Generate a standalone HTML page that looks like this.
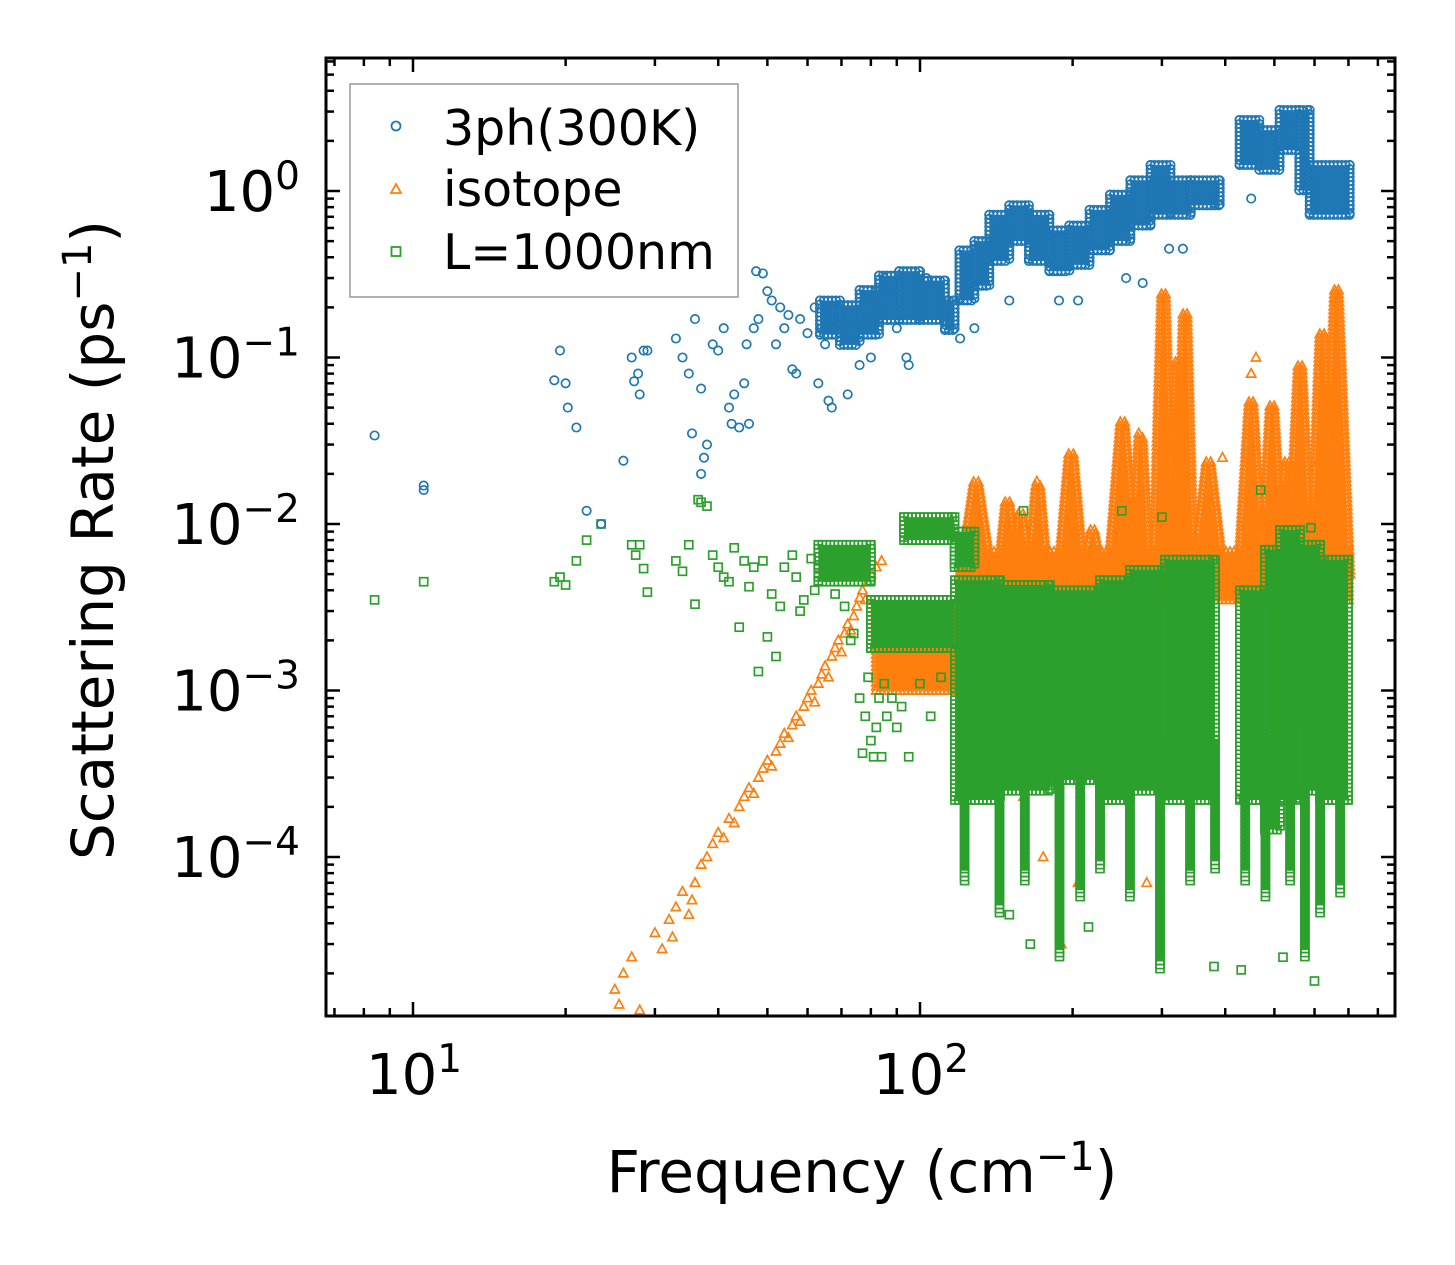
<!DOCTYPE html>
<html><head><meta charset="utf-8"><style>
html,body{margin:0;padding:0;background:#fff}
svg{display:block}
text{font-family:"DejaVu Sans","Liberation Sans",sans-serif;fill:#000}
</style></head><body>
<svg id="chart" width="1455" height="1265" viewBox="0 0 1455 1265" xmlns="http://www.w3.org/2000/svg">
<rect x="0" y="0" width="1455" height="1265" fill="#fff"/>
<g id="marks"></g>
<g id="axes"></g>
<g id="legend">
<rect x="350" y="84" width="388" height="213" fill="#fff" fill-opacity="0.8" stroke="#999" stroke-width="1.5"/>
<circle cx="396" cy="126" r="4.5" fill="none" stroke="#1f77b4" stroke-width="1.8"/>
<text x="443" y="145" font-size="49">3ph(300K)</text>
<polygon points="396,184 401,193 391,193" fill="none" stroke="#ff7f0e" stroke-width="1.8"/>
<text x="443" y="206" font-size="49">isotope</text>
<rect x="391.5" y="247" width="9" height="9" fill="none" stroke="#2ca02c" stroke-width="1.8"/>
<text x="443" y="269" font-size="49">L=1000nm</text>
</g>
</svg>
<script>
// ---- data ----
const xTickVals=[10,100];
const xTickLabels=["1","2"];
const yTickVals=[1,0.1,0.01,0.001,0.0001];
const yTickLabels=["0","\u22121","\u22122","\u22123","\u22124"];

const blueX=[8.4,10.5,10.5,19,19.5,20,20.2,21,22,23.5,26,27,27.3,27.8,28,28.5,29,33,34,35,35.5,36,37,37,37.5,38,39,40,41,42,42.5,43,44,45,45.5,46,47,47.5,48,49,50,51,52,53,54,55,56,57,58,60,62,63,64,65,66,67,68,70,72,74,76,78,80,82,85,88,90,92,94,95,98,100,103,105,120,128,150,188,205,255,275,310,330,380,450];
const blueY=[0.034,0.017,0.016,0.073,0.11,0.07,0.05,0.038,0.012,0.01,0.024,0.1,0.072,0.08,0.06,0.11,0.11,0.13,0.1,0.08,0.035,0.17,0.065,0.02,0.025,0.03,0.12,0.11,0.15,0.05,0.04,0.06,0.038,0.07,0.12,0.04,0.15,0.33,0.17,0.32,0.25,0.22,0.12,0.2,0.15,0.18,0.085,0.08,0.17,0.14,0.2,0.07,0.15,0.12,0.055,0.05,0.2,0.16,0.06,0.18,0.09,0.2,0.1,0.25,0.3,0.22,0.15,0.18,0.1,0.09,0.24,0.2,0.3,0.22,0.13,0.15,0.22,0.22,0.22,0.3,0.28,0.45,0.45,0.85,0.9];
const blueBandLo=[63.5,69.5,76,83,91,100,112,119.6,128,137,150,164,180,197,216,237,260,285,312,342,427,467,512,560,587];
const blueBandHi=[69.5,76,83,91,100,112,117,128,137,150,164,180,197,216,237,260,285,312,342,390,467,512,560,587,704];
const blueBandMin=[0.137,0.119,0.137,0.168,0.168,0.168,0.146,0.22,0.27,0.38,0.5,0.38,0.33,0.36,0.44,0.5,0.62,0.72,0.72,0.82,1.43,1.34,1.76,1.01,0.72];
const blueBandMax=[0.22,0.206,0.254,0.31,0.33,0.29,0.22,0.44,0.5,0.72,0.82,0.72,0.58,0.62,0.77,0.95,1.16,1.43,1.16,1.16,2.67,2.32,3.06,3.06,1.43];

const orangeX=[22,25,25.5,26,27,28,28.5,30,31,32,32.5,33,34,35,35.5,36,37,38,39,40,41,42,43,44,45,46,47,48,49,50,51,52,53,54,55,56,57,58,59,60,61,62,63,64,65,66,67,68,69,70,71,72,73,74,75,76,77,78,79,80,82,84,160,175,190,205,230,280,330,395,450,460,600,170,270];
const orangeY=[1.1e-5,1.6e-5,1.3e-5,2e-5,2.5e-5,1.2e-5,1.1e-5,3.5e-5,2.8e-5,4.2e-5,3.3e-5,5e-5,6.2e-5,4.5e-5,5.5e-5,7e-5,9e-5,1e-4,1.2e-4,1.4e-4,1.3e-4,1.7e-4,1.6e-4,2e-4,2.3e-4,2.6e-4,2.4e-4,3e-4,3.4e-4,3.8e-4,3.5e-4,4.3e-4,4.8e-4,5.5e-4,5.2e-4,6.2e-4,7e-4,6.5e-4,8e-4,9e-4,1e-3,8.5e-4,1.1e-3,1.25e-3,1.4e-3,1.2e-3,1.6e-3,1.8e-3,2e-3,1.7e-3,2.2e-3,2.5e-3,2.3e-3,2.8e-3,3.2e-3,3.6e-3,4e-3,3.5e-3,4.5e-3,5e-3,5.5e-3,6e-3,2.3e-4,1e-4,3e-5,7e-5,2.5e-4,7e-5,0.06,0.025,0.08,0.1,0.022,0.018,0.035];
const orangeBandLo=[82,121];
const orangeBandHi=[121,700];
const orangeBandMin=[0.001,0.0035];
const orangeBandMax=[0.0032,0.0068];
const orangeSpikeLo=[121,143.8,153,164.8,188.9,211.6,237,263,290.8,308,322.9,348.6,427.6,472.8,508,537,593,629];
const orangeSpikeHi=[137.4,153.8,163,177,208.7,226.5,265.5,281.7,314,337,344,394,472.8,517.6,551.6,587.6,649.6,698.6];
const orangeSpikeTop=[0.0184,0.0139,0.0121,0.0175,0.0277,0.0092,0.0421,0.034,0.244,0.0968,0.188,0.0242,0.0556,0.052,0.0242,0.09,0.146,0.254];

const greenX=[8.4,10.5,19,19.5,20,21,22,23.5,27,27.5,28,28.5,29,33,34,35,36,36.5,37,38,39,40,41,42,43,44,45,46,47,48,49,50,51,52,53,54,56,57,58,59,61,62,63,66,67,68,71,73,74,76,77,78,79,80,81,82,83,84,85,86,88,90,92,95,100,105,110,160,250,300,470,590,620,150,165,215,380,430,520,600];
const greenY=[0.0035,0.0045,0.0045,0.0048,0.0043,0.006,0.008,0.01,0.0075,0.0065,0.0075,0.0054,0.0039,0.006,0.0052,0.0075,0.0033,0.014,0.0135,0.0128,0.0065,0.0055,0.0048,0.0045,0.0072,0.0024,0.006,0.0042,0.0055,0.0013,0.006,0.0021,0.0038,0.0016,0.0032,0.0055,0.0065,0.0048,0.003,0.0035,0.0062,0.004,0.0055,0.0048,0.0058,0.0038,0.0032,0.002,0.0022,0.0009,0.00042,0.0007,0.0012,0.0005,0.0004,0.0006,0.0009,0.0004,0.0011,0.0007,0.0009,0.0006,0.0008,0.0004,0.0011,0.0007,0.0012,0.012,0.012,0.011,0.016,0.0095,0.006,4.5e-5,3e-5,3.8e-5,2.2e-5,2.1e-5,2.5e-5,1.8e-5];
const greenBandLo=[63,80,93,117,117.2,143.8,180.5,226.5,259.7,304,427.6,479,512.9,561.6,615];
const greenBandHi=[80,117,117,128,143.8,180.5,226.5,259.7,304,381.8,479,512.9,561.6,615,698.6];
const greenBandMin=[0.0045,0.0018,0.008,0.0055,0.00022,0.00025,0.00029,0.00022,0.00025,0.00022,0.00022,0.000146,0.00022,0.00025,0.00022];
const greenBandMax=[0.0075,0.0035,0.011,0.009,0.0046,0.0043,0.004,0.0046,0.0053,0.0061,0.004,0.007,0.0092,0.0075,0.0061];
const greenSpikeLo=[120,141,158,185,203,222,255,292,335,375,430,471,527,564,604,662];
const greenSpikeHi=[125,146,164,192,211,231,264,303,347,389,446,489,547,585,627,686];
const greenSpikeMin=[7.2e-5,4.5e-5,7.2e-5,2.4e-5,5.5e-5,8.3e-5,5.5e-5,2.1e-5,7.2e-5,8.3e-5,7.2e-5,5.5e-5,7.2e-5,2.4e-5,4.5e-5,6e-5];
const greenSpikeMax=[0.0005,0.0005,0.0005,0.0005,0.0005,0.0005,0.0005,0.0005,0.0005,0.0005,0.0005,0.0005,0.0005,0.0005,0.0005,0.0005];

// ---- scales ----
const X0=326,X1=1395,Y0=58,Y1=1016;
const xPx10=413,xDec=507;
const yPx1=191,yDec=166.5;
function sx(f){return xPx10+(Math.log10(f)-1)*xDec;}
function sy(v){return yPx1-Math.log10(v)*yDec;}

const NS="http://www.w3.org/2000/svg";
const marks=document.getElementById('marks');
const axes=document.getElementById('axes');
function mk(tag,attrs,parent){const e=document.createElementNS(NS,tag);for(const k in attrs)e.setAttribute(k,attrs[k]);parent.appendChild(e);return e;}

function marker(kind,px,py,parent){
  if(px<X0||px>X1||py<Y0||py>Y1)return null;
  if(kind==='c')return mk('circle',{cx:px.toFixed(1),cy:py.toFixed(1),r:4.2,fill:'none',stroke:'#1f77b4','stroke-width':1.7},parent);
  if(kind==='t')return mk('polygon',{points:`${px.toFixed(1)},${(py-5).toFixed(1)} ${(px+4.6).toFixed(1)},${(py+3.5).toFixed(1)} ${(px-4.6).toFixed(1)},${(py+3.5).toFixed(1)}`,fill:'none',stroke:'#ff7f0e','stroke-width':1.7},parent);
  return mk('rect',{x:(px-4).toFixed(1),y:(py-4).toFixed(1),width:8,height:8,fill:'none',stroke:'#2ca02c','stroke-width':1.7},parent);
}
function clip(v,a,b){return Math.max(a,Math.min(b,v));}

function drawBands(g,name,kind,color,bLo,bHi,bMin,bMax){
  for(let i=0;i<bLo.length;i++){
    const x0=sx(bLo[i]),x1=sx(bHi[i]),y0=sy(bMax[i]),y1=sy(bMin[i]);
    const r=mk('rect',{x:clip(x0,X0,X1),y:clip(y0,Y0,Y1),width:Math.max(0,clip(x1,X0,X1)-clip(x0,X0,X1)),height:Math.max(0,clip(y1,Y0,Y1)-clip(y0,Y0,Y1)),fill:color},g);
    
    
    for(let px=x0;px<=x1;px+=4){marker(kind,px,y0,g);marker(kind,px,y1,g);}
    for(let py=y0;py<=y1;py+=4){marker(kind,x0,py,g);marker(kind,x1,py,g);}
  }
}
function drawPoints(g,name,kind,xs,ys){
  for(let i=0;i<xs.length;i++){
    const m=marker(kind,sx(xs[i]),sy(ys[i]),g);
    if(m){
    }
  }
}

// isotope
const gO=mk('g',{},marks);


drawBands(gO,'isotope','t','#ff7f0e',orangeBandLo,orangeBandHi,orangeBandMin,orangeBandMax);
for(let i=0;i<orangeSpikeLo.length;i++){
  const x0=sx(orangeSpikeLo[i]),x1=sx(orangeSpikeHi[i]),xc=(x0+x1)/2;
  const yb=sy(0.005),yt=sy(orangeSpikeTop[i]);
  const p=mk('polygon',{points:`${x0},${yb} ${xc-2},${yt+6} ${xc+2},${yt+6} ${x1},${yb}`,fill:'#ff7f0e'},gO);
  
  
  for(let py=yb;py>=yt;py-=4){
    const frac=(yb-py)/(yb-yt); const hw=(x1-x0)/2*(1-frac)+2;
    marker('t',xc-hw,py,gO);marker('t',xc+hw,py,gO);
  }
}
drawPoints(gO,'isotope','t',orangeX,orangeY);

// boundary
const gG=mk('g',{},marks);


drawBands(gG,'boundary','s','#2ca02c',greenBandLo,greenBandHi,greenBandMin,greenBandMax);
for(let i=0;i<greenSpikeLo.length;i++){
  const x0=sx(greenSpikeLo[i]),x1=sx(greenSpikeHi[i]),xc=(x0+x1)/2;
  const yt=sy(greenSpikeMax[i]),yb=sy(greenSpikeMin[i]);
  for(let py=yt;py<=yb;py+=4){marker('s',xc,py,gG);}
  const r=mk('rect',{x:xc-4,y:yt,width:8,height:Math.max(0,yb-yt-10),fill:'#2ca02c'},gG);
  
  
}
drawPoints(gG,'boundary','s',greenX,greenY);

// three-phonon
const gB=mk('g',{},marks);


drawBands(gB,'three-phonon','c','#1f77b4',blueBandLo,blueBandHi,blueBandMin,blueBandMax);
drawPoints(gB,'three-phonon','c',blueX,blueY);

// ---- axes ----
const frame=mk('rect',{x:X0,y:Y0,width:X1-X0,height:Y1-Y0,fill:'none',stroke:'#000','stroke-width':3},axes);


function tickLine(x1,y1,x2,y2,w){mk('line',{x1,y1,x2,y2,stroke:'#000','stroke-width':w},axes);}
for(let d=0;d<=2;d++){
  for(let m=1;m<=9;m++){
    const px=sx(m*Math.pow(10,d));
    if(px<X0+1||px>X1-1)continue;
    const L=m===1?14:8;
    tickLine(px,Y1,px,Y1-L,2.5);tickLine(px,Y0,px,Y0+L,2.5);
  }
}
for(let i=0;i<xTickVals.length;i++){
  const px=sx(xTickVals[i]);
  const t=mk('text',{x:px-47,y:1094,'font-size':56},axes);
  
  
  t.textContent='10';
  const s=mk('tspan',{dy:-22,'font-size':39},t);s.textContent=xTickLabels[i];
}
for(let d=-5;d<=0;d++){
  for(let m=1;m<=9;m++){
    const py=sy(m*Math.pow(10,d));
    if(py<Y0+1||py>Y1-1)continue;
    const L=m===1?14:8;
    tickLine(X0,py,X0+L,py,2.5);tickLine(X1,py,X1-L,py,2.5);
  }
}
for(let i=0;i<yTickVals.length;i++){
  const py=sy(yTickVals[i]);
  const t=mk('text',{x:300,y:py+20,'font-size':56,'text-anchor':'end'},axes);
  
  
  t.textContent='10';
  const s=mk('tspan',{dy:-22,'font-size':39},t);s.textContent=yTickLabels[i];
}
const xt=mk('text',{x:862,y:1192,'font-size':58,'text-anchor':'middle'},axes);


xt.innerHTML='Frequency (cm<tspan dy="-22" font-size="40">\u22121</tspan><tspan dy="22">)</tspan>';
const yt=mk('text',{x:0,y:0,'font-size':58,'text-anchor':'middle',transform:'translate(113,540) rotate(-90)'},axes);


yt.innerHTML='Scattering Rate (ps<tspan dy="-22" font-size="40">\u22121</tspan><tspan dy="22">)</tspan>';
document.getElementById('chart').appendChild(document.getElementById('legend'));
</script>
</body></html>
